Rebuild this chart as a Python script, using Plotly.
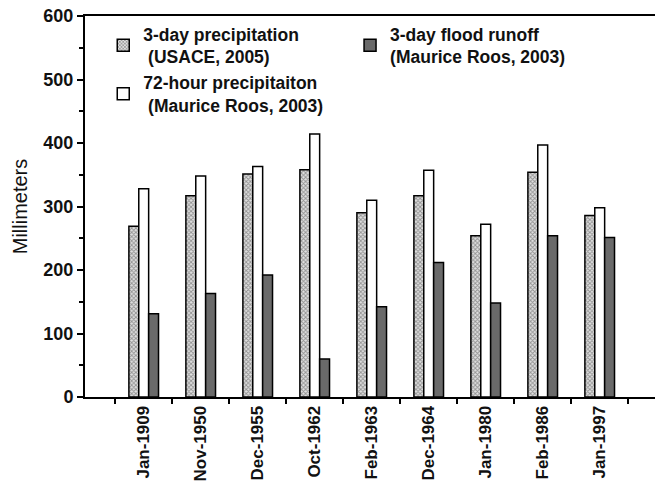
import plotly.graph_objects as go

categories = ["Jan-1909", "Nov-1950", "Dec-1955", "Oct-1962", "Feb-1963",
              "Dec-1964", "Jan-1980", "Feb-1986", "Jan-1997"]
precip_3day = [269, 317, 351, 358, 290, 317, 254, 354, 286]
precip_72hr = [328, 348, 363, 414, 310, 357, 272, 397, 298]
runoff_3day = [131, 163, 192, 60, 142, 212, 148, 254, 251]

FONT = "Arial, Liberation Sans, sans-serif"
line = dict(color="black", width=1.5)

fig = go.Figure()
fig.add_trace(go.Bar(
    x=categories, y=precip_3day,
    name="3-day precipitation<br> (USACE, 2005)",
    marker=dict(color="white", line=line,
                pattern=dict(shape="x", size=3, solidity=0.5,
                             fgcolor="#444444", bgcolor="#e0e0e0")),
    legend="legend", legendgroup="a",
))
fig.add_trace(go.Bar(
    x=categories, y=precip_72hr,
    name="72-hour precipitaiton<br> (Maurice Roos, 2003)",
    marker=dict(color="white", line=line),
    legend="legend", legendgroup="b",
))
fig.add_trace(go.Bar(
    x=categories, y=runoff_3day,
    name="3-day flood runoff<br>(Maurice Roos, 2003)",
    marker=dict(color="#6a6a6a", line=line),
    legend="legend2", legendgroup="c",
))

legend_font = dict(family=FONT, size=17.5, color="#111111", weight="bold")
fig.update_layout(
    width=655, height=487,
    margin=dict(l=85, r=0, t=16, b=90, autoexpand=False),
    paper_bgcolor="white", plot_bgcolor="white",
    barmode="group", bargap=0.48, bargroupgap=0,
    showlegend=True,
    legend=dict(x=0.032, y=1.0, xanchor="left", yanchor="top",
                font=legend_font, bgcolor="rgba(0,0,0,0)",
                tracegroupgap=4, traceorder="normal"),
    legend2=dict(x=0.465, y=1.0, xanchor="left", yanchor="top",
                 font=legend_font, bgcolor="rgba(0,0,0,0)"),
    xaxis=dict(
        type="category", range=[-1.03, 8.97], automargin=False,
        tickson="boundaries", ticks="outside", ticklen=5, tickwidth=1.5,
        tickcolor="black", tickangle=-90,
        tickfont=dict(family=FONT, size=17, color="#111111", weight="bold"),
        showline=True, linecolor="black", linewidth=2, mirror=True,
        showgrid=False, zeroline=False,
    ),
    yaxis=dict(
        range=[0, 600], tickvals=[0, 100, 200, 300, 400, 500, 600],
        automargin=False,
        ticks="outside", ticklen=6, tickwidth=1.5, tickcolor="black",
        minor=dict(tickvals=[50, 150, 250, 350, 450, 550], ticks="outside",
                   ticklen=4, tickwidth=1.5, tickcolor="black"),
        tickfont=dict(family=FONT, size=18, color="#111111", weight="bold"),
        showline=True, linecolor="black", linewidth=2,
        showgrid=False, zeroline=False,
        title=dict(text="Millimeters", font=dict(family=FONT, size=20, color="#111111"),
                   standoff=10),
    ),
)

fig.write_html("out.html", config={"displayModeBar": False},
               post_script="document.body.style.margin='0';document.body.style.overflow='hidden';")
